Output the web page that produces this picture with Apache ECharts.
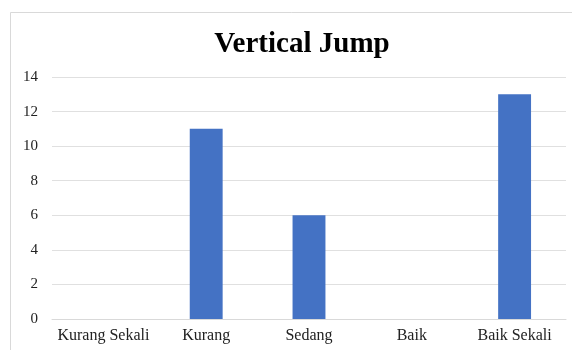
<!DOCTYPE html>
<html>
<head>
<meta charset="utf-8">
<script src="https://cdn.jsdelivr.net/npm/echarts@6/dist/echarts.min.js"></script>
<style>
  html, body { margin: 0; padding: 0; background: #fff; }
  #chart { width: 572px; height: 350px; }
</style>
</head>
<body>
<div id="chart"></div>
<script>
// data
var categories = ['Kurang Sekali', 'Kurang', 'Sedang', 'Baik', 'Baik Sekali'];
var jumpValues = [0, 11, 6, 0, 13];

var myChart = echarts.init(document.getElementById('chart'));
var font = '"Liberation Serif", "Times New Roman", serif';

var option = {
    backgroundColor: '#fff',
    animation: false,
    // chart area border
    graphic: [{
        type: 'rect',
        shape: { x: 10.5, y: 12.5, width: 600, height: 400 },
        style: { fill: 'none', stroke: '#d9d9d9', lineWidth: 1 },
        silent: true
    }],
    title: {
        text: 'Vertical Jump',
        left: 297,
        top: 25,
        textAlign: 'center',
        textStyle: {
            fontFamily: font,
            fontWeight: 'bold',
            fontSize: 29,
            color: '#000'
        }
    },
    grid: {
        left: 52,
        right: 6,
        top: 77,
        bottom: 31,
        containLabel: false
    },
    xAxis: {
        type: 'category',
        data: categories,
        axisLine: { lineStyle: { color: '#d9d9d9' } },
        axisTick: { show: false },
        axisLabel: {
            interval: 0,
            fontFamily: font,
            fontSize: 16,
            color: '#222',
            margin: 9
        }
    },
    yAxis: {
        type: 'value',
        min: 0,
        max: 14,
        interval: 2,
        axisLine: { show: false },
        axisTick: { show: false },
        splitLine: { lineStyle: { color: '#e0e0e0' } },
        axisLabel: {
            fontFamily: font,
            fontSize: 15,
            color: '#222',
            margin: 14
        }
    },
    series: [{
        type: 'bar',
        data: jumpValues,
        barWidth: '32%',
        itemStyle: { color: '#4472C4' }
    }]
};

myChart.setOption(option);
</script>
</body>
</html>
